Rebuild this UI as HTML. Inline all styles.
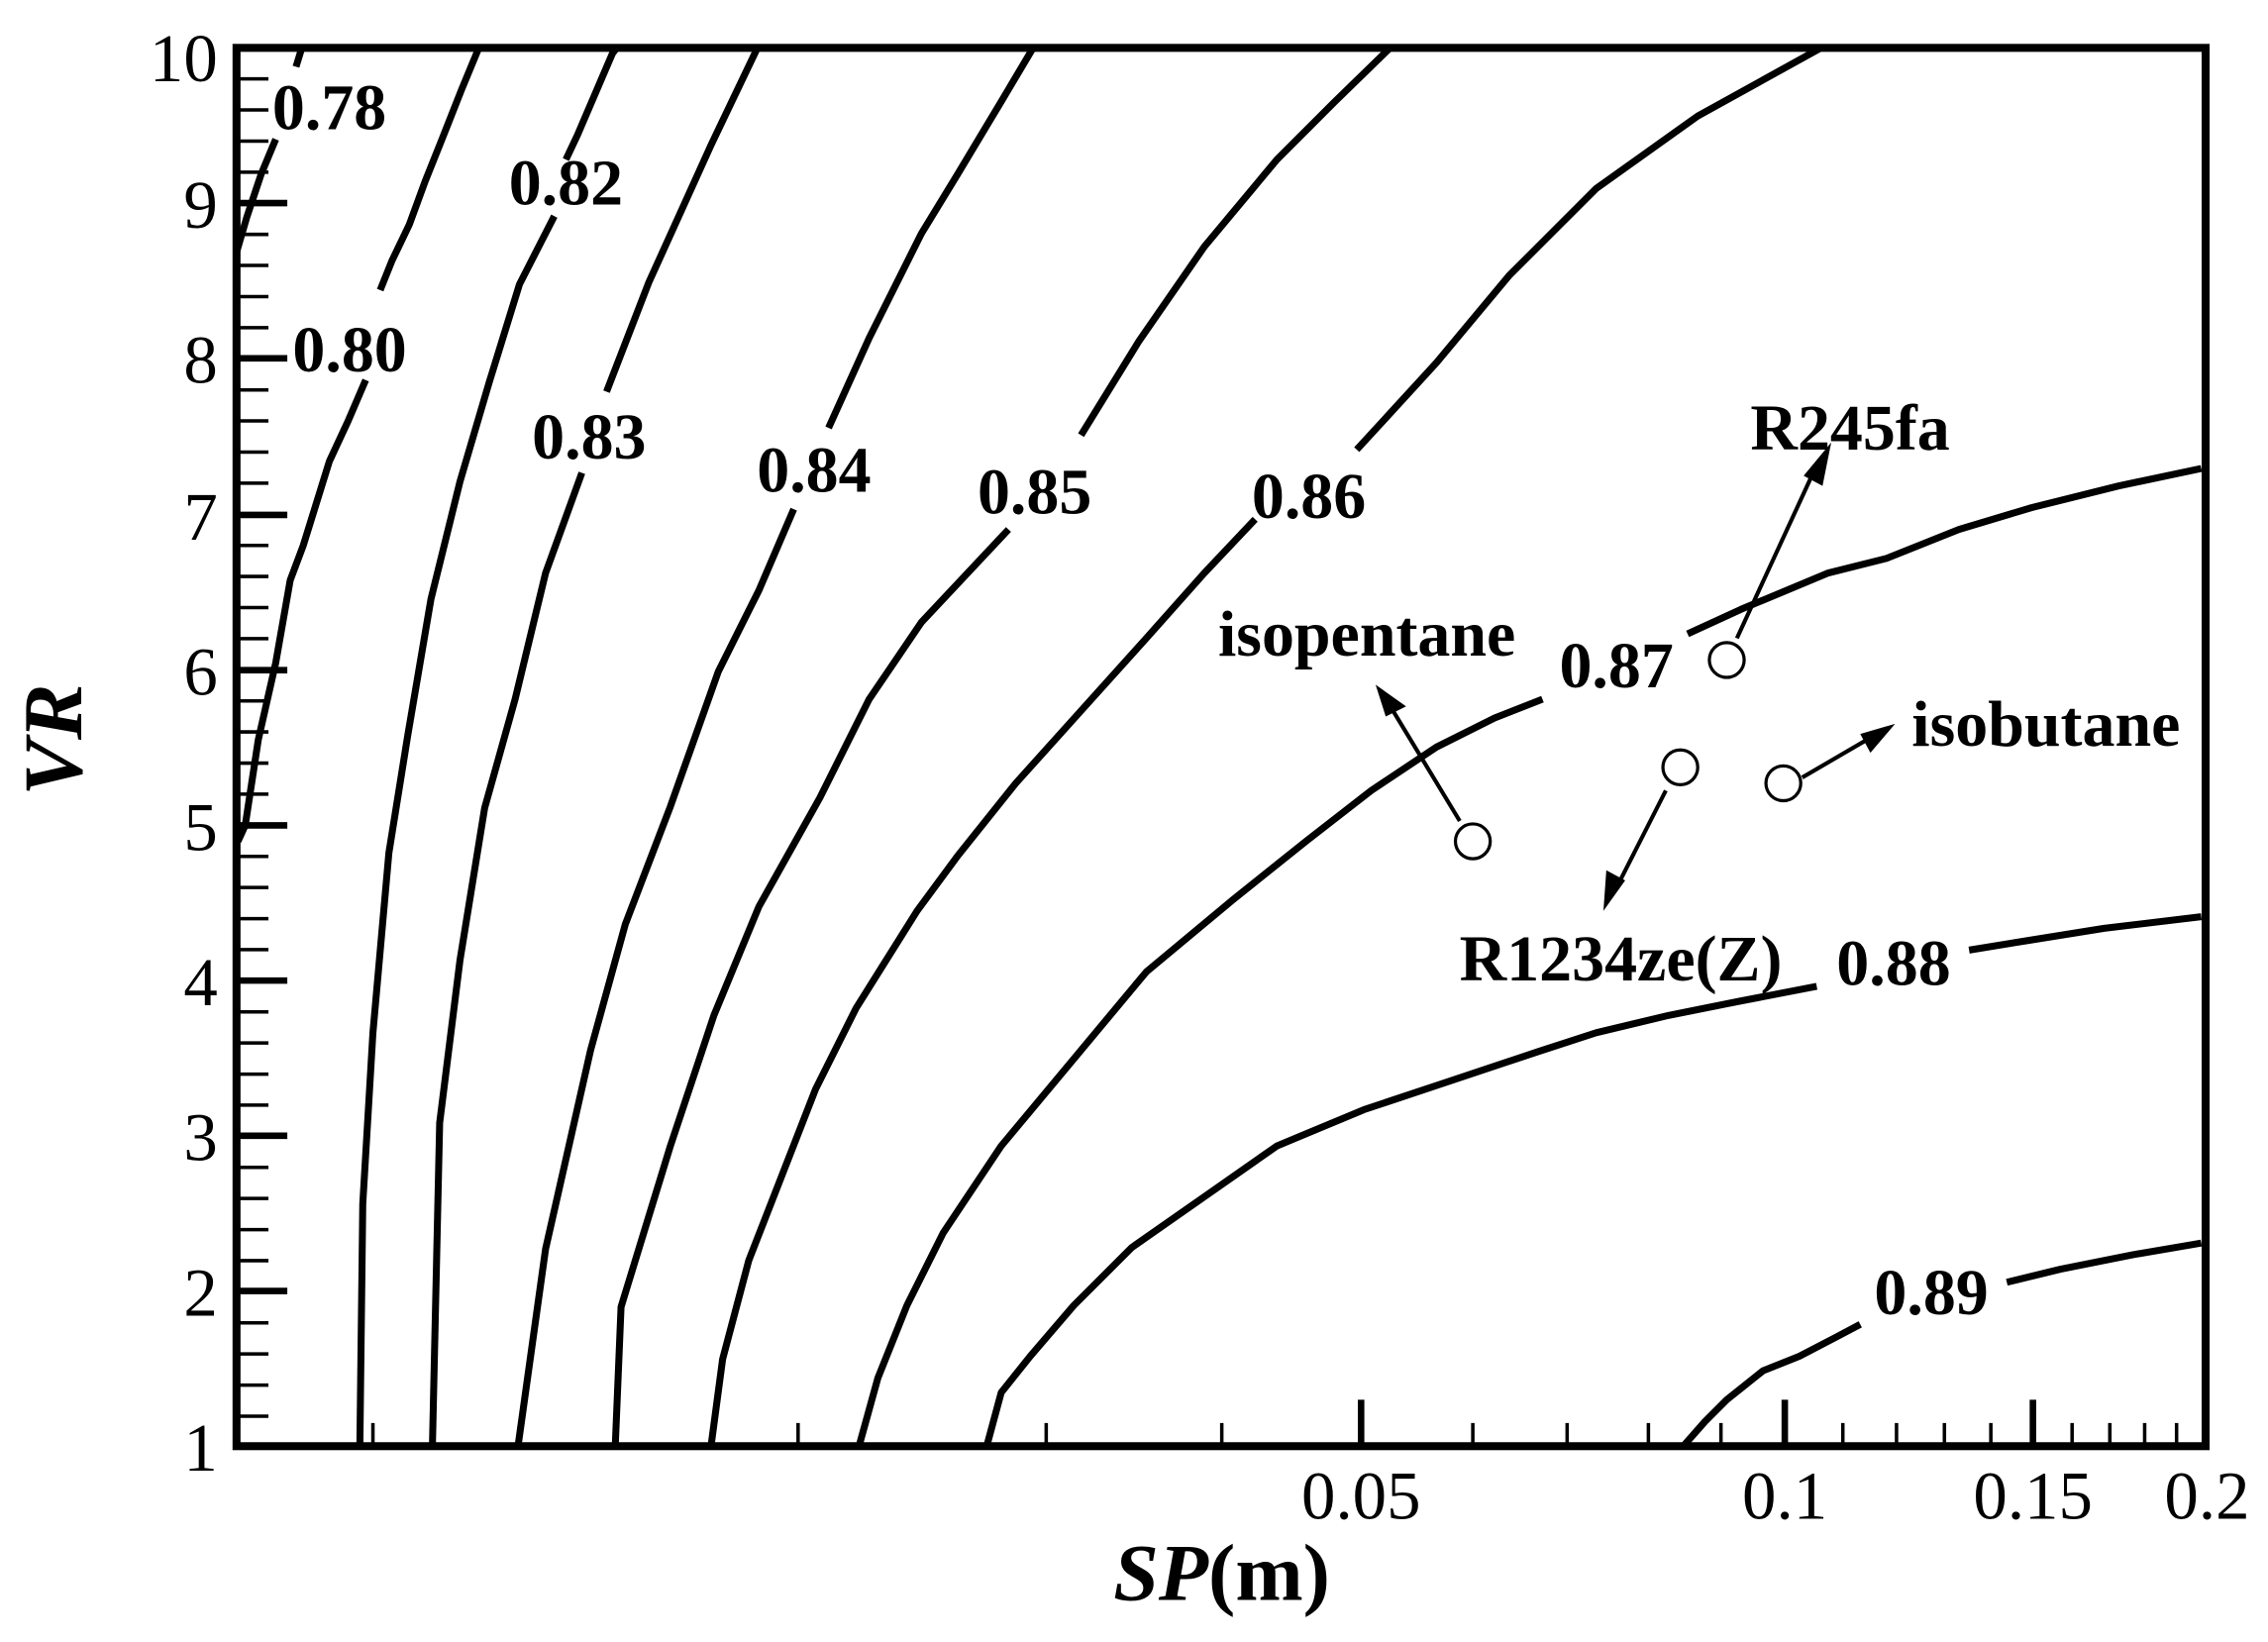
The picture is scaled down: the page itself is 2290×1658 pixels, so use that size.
<!DOCTYPE html>
<html><head><meta charset="utf-8"><style>
html,body{margin:0;padding:0;background:#fff;}
svg{display:block;}
.c{fill:none;stroke:#000;stroke-width:4.8;stroke-linejoin:round;stroke-linecap:butt;}
.t{font-family:"Liberation Serif",serif;font-size:47px;fill:#000;}
.l{font-family:"Liberation Serif",serif;font-size:45px;font-weight:bold;fill:#000;}
</style></head><body>
<svg width="2290" height="1658" viewBox="0 0 1563 1132" preserveAspectRatio="none" xmlns="http://www.w3.org/2000/svg">
<rect width="1563" height="1132" fill="#fff"/>
<!-- contours -->
<polyline class="c" points="208,33 204,46"/>
<polyline class="c" points="190,96 180,120 170,150 163,174"/>
<polyline class="c" points="330,33 318,62 305,95 293,125 282,155 270,180 262,200"/>
<polyline class="c" points="252,262 240,290 227,318 209,376 200,400 190,457 178,510 169,569 164,580"/>
<polyline class="c" points="425,33 422,37 398,93 390,110"/>
<polyline class="c" points="382,149 358,196 337,264 317,332 297,413 281,507 268,588 257,712 250,830 248,997"/>
<polyline class="c" points="522,33 490,100 447,195 418,270"/>
<polyline class="c" points="401,326 376,395 355,482 334,557 317,662 303,774 298,997"/>
<polyline class="c" points="712,33 690,70 660,120 635,161 599,233 571,295"/>
<polyline class="c" points="547,351 523,407 495,463 462,556 431,637 407,724 376,861 357,997"/>
<polyline class="c" points="958,33 920,70 880,110 830,170 785,235 745,300"/>
<polyline class="c" points="695,365 635,429 599,482 565,550 523,625 492,700 462,790 428,901 424,997"/>
<polyline class="c" points="1255,33 1170,80 1100,130 1040,190 990,250 935,310"/>
<polyline class="c" points="865,358 830,395 790,440 745,490 700,540 660,590 632,628 590,695 562,751 516,869 498,937 490,997"/>
<polyline class="c" points="1517,323 1460,335 1400,350 1350,365 1300,385 1260,395 1200,420 1163,437"/>
<polyline class="c" points="1063,482 1030,495 990,515 945,545 900,580 850,620 790,670 740,730 690,790 650,850 625,900 605,950 592,997"/>
<polyline class="c" points="1517,632 1450,640 1400,648 1357,655"/>
<polyline class="c" points="1252,680 1200,690 1150,700 1100,712 1060,725 1000,745 940,765 880,790 830,825 780,860 740,900 710,935 690,960 680,997"/>
<polyline class="c" points="1517,857 1470,865 1420,875 1383,884"/>
<polyline class="c" points="1282,913 1265,922 1240,935 1215,945 1190,965 1175,980 1160,997"/>
<!-- contour labels -->
<text class="l" x="227" y="89" text-anchor="middle">0.78</text>
<text class="l" x="241" y="256" text-anchor="middle">0.80</text>
<text class="l" x="390" y="141" text-anchor="middle">0.82</text>
<text class="l" x="406" y="316" text-anchor="middle">0.83</text>
<text class="l" x="561" y="339" text-anchor="middle">0.84</text>
<text class="l" x="713" y="354" text-anchor="middle">0.85</text>
<text class="l" x="902" y="357" text-anchor="middle">0.86</text>
<text class="l" x="1114" y="474" text-anchor="middle">0.87</text>
<text class="l" x="1305" y="679" text-anchor="middle">0.88</text>
<text class="l" x="1331" y="906" text-anchor="middle">0.89</text>
<!-- markers & arrows -->
<g fill="#fff" stroke="#000" stroke-width="2.2">
<ellipse cx="1015" cy="580" rx="12" ry="12"/>
<ellipse cx="1158" cy="529" rx="12" ry="12"/>
<ellipse cx="1190" cy="455" rx="12" ry="12"/>
<ellipse cx="1229" cy="540" rx="12" ry="12"/>
</g>
<g stroke="#000" stroke-width="2.8">
<line x1="1006" y1="566" x2="960" y2="490"/>
<line x1="1197" y1="440" x2="1250" y2="325"/>
<line x1="1242" y1="536" x2="1290" y2="508"/>
<line x1="1148" y1="545" x2="1114" y2="612"/>
</g>
<g fill="#000">
<polygon points="948,472 969,487 955,494"/>
<polygon points="1262,305 1256,335 1243,328"/>
<polygon points="1306,499 1289,519 1282,506"/>
<polygon points="1105,628 1107,600 1120,607"/>
</g>
<text class="l" x="942" y="452" text-anchor="middle">isopentane</text>
<text class="l" x="1275" y="310" text-anchor="middle">R245fa</text>
<text class="l" x="1410" y="514" text-anchor="middle">isobutane</text>
<text class="l" x="1117" y="676" text-anchor="middle">R1234ze(Z)</text>
<!-- ticks -->
<g stroke="#000" stroke-width="4.5">
<line x1="163" y1="140" x2="198" y2="140"/><line x1="163" y1="247" x2="198" y2="247"/><line x1="163" y1="355" x2="198" y2="355"/><line x1="163" y1="462" x2="198" y2="462"/><line x1="163" y1="569" x2="198" y2="569"/><line x1="163" y1="676" x2="198" y2="676"/><line x1="163" y1="783" x2="198" y2="783"/><line x1="163" y1="890" x2="198" y2="890"/>
<line x1="938" y1="997" x2="938" y2="965"/><line x1="1230" y1="997" x2="1230" y2="965"/><line x1="1401" y1="997" x2="1401" y2="965"/>
</g>
<g stroke="#000" stroke-width="2.4">
<path d="M163 54.4h22M163 75.8h22M163 97.3h22M163 118.7h22M163 161.6h22M163 183h22M163 204.5h22M163 225.9h22M163 268.8h22M163 290.2h22M163 311.7h22M163 333.1h22M163 376h22M163 397.4h22M163 418.9h22M163 440.3h22M163 483.2h22M163 504.6h22M163 526.1h22M163 547.5h22M163 590.4h22M163 611.8h22M163 633.3h22M163 654.7h22M163 697.6h22M163 719h22M163 740.5h22M163 761.9h22M163 804.8h22M163 826.2h22M163 847.7h22M163 869.1h22M163 912h22M163 933.4h22M163 954.9h22M163 976.3h22"/>
<path d="M257 997v-16M550 997v-16M721 997v-16M842 997v-16M1015 997v-16M1080 997v-16M1136 997v-16M1186 997v-16M1270 997v-16M1307 997v-16M1340 997v-16M1372 997v-16M1428 997v-16M1454 997v-16M1478 997v-16M1500 997v-16"/>
</g>
<!-- frame -->
<rect x="163" y="33" width="1357" height="964" fill="none" stroke="#000" stroke-width="5.5"/>
<!-- tick labels -->
<g class="t" text-anchor="end">
<text x="150" y="56">10</text><text x="150" y="157">9</text><text x="150" y="264">8</text><text x="150" y="372">7</text><text x="150" y="479">6</text><text x="150" y="586">5</text><text x="150" y="693">4</text><text x="150" y="800">3</text><text x="150" y="907">2</text><text x="150" y="1014">1</text>
</g>
<g class="t" text-anchor="middle">
<text x="938" y="1047">0.05</text><text x="1230" y="1047">0.1</text><text x="1401" y="1047">0.15</text><text x="1521" y="1047">0.2</text>
</g>
<text x="842" y="1103" text-anchor="middle" style="font-family:'Liberation Serif',serif;font-size:56px;font-weight:bold"><tspan font-style="italic">SP</tspan>(m)</text>
<text transform="translate(56,510) rotate(-90)" text-anchor="middle" style="font-family:'Liberation Serif',serif;font-size:58px;font-weight:bold;font-style:italic">VR</text>
</svg>
</body></html>
